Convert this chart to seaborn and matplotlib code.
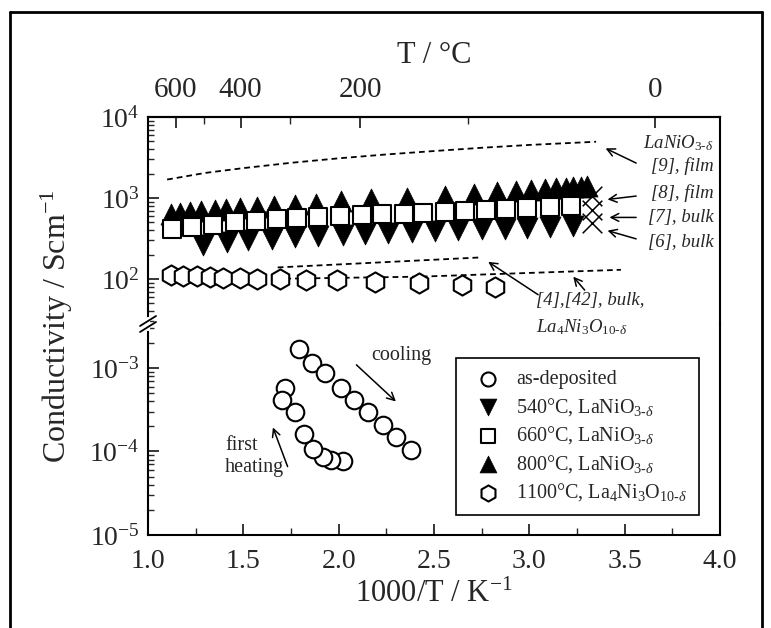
import numpy as np
import matplotlib
matplotlib.use("Agg")
import matplotlib.pyplot as plt
import seaborn as sns
from matplotlib.lines import Line2D

# -----------------------------------
# DATA  (x = 1000/T in K^-1, y = conductivity in S/cm)
# -----------------------------------

# as-deposited film, first heating then cooling
asdep_x = [2.02, 1.96, 1.92, 1.865, 1.82, 1.77, 1.72, 1.705,
           1.79, 1.86, 1.93, 2.01, 2.08, 2.155, 2.23, 2.30, 2.38]
asdep_y = [7.6e-5, 7.9e-5, 8.7e-5, 1.08e-4, 1.63e-4, 2.95e-4, 5.7e-4, 4.1e-4,
           1.69e-3, 1.14e-3, 8.6e-4, 5.7e-4, 4.1e-4, 2.95e-4, 2.1e-4, 1.48e-4, 1.05e-4]

# 540 C, LaNiO3
x540 = [1.29, 1.415, 1.525, 1.65, 1.77, 1.89, 2.02, 2.14, 2.26, 2.385,
        2.505, 2.627, 2.75, 2.87, 2.99, 3.11, 3.23]
y540 = [260, 285, 300, 313, 328, 344, 352, 362, 372, 380,
        390, 400, 410, 420, 432, 442, 455]

# 660 C, LaNiO3
x660 = [1.125, 1.23, 1.342, 1.456, 1.566, 1.675, 1.78, 1.89, 2.007, 2.12,
        2.225, 2.34, 2.44, 2.56, 2.66, 2.77, 2.88, 2.99, 3.11, 3.22]
y660 = [415, 435, 465, 500, 525, 550, 565, 580, 605, 620,
        630, 640, 660, 680, 690, 705, 730, 750, 770, 790]

# 800 C, LaNiO3
x800 = [1.12, 1.17, 1.22, 1.28, 1.35, 1.41, 1.48, 1.57, 1.66, 1.77, 1.88,
        2.01, 2.17, 2.36, 2.56, 2.71, 2.83, 2.93, 3.01, 3.08, 3.14, 3.19,
        3.23, 3.27, 3.30]
y800 = [630, 655, 675, 690, 710, 725, 755, 775, 795, 830, 850,
        910, 960, 1000, 1050, 1120, 1170, 1210, 1250, 1290, 1320, 1340,
        1360, 1380, 1390]

# 1100 C, La4Ni3O10
x1100 = [1.12, 1.185, 1.255, 1.325, 1.395, 1.48, 1.57, 1.69, 1.83, 1.99,
         2.19, 2.42, 2.645, 2.82]
y1100 = [112, 110, 108, 106, 104, 102, 100, 99, 97, 96,
         93, 89, 85, 80]

# literature lines
film9_x = [1.10, 1.30, 1.50, 1.75, 2.00, 2.25, 2.50, 2.75, 3.00, 3.35]
film9_y = [1690, 2040, 2340, 2720, 3090, 3450, 3800, 4170, 4520, 4950]
bulk4_x = [1.68, 2.75]
bulk4_y = [139, 185]
bulk42_x = [1.72, 2.43, 3.48]
bulk42_y = [101, 107, 130]
lit_x = [3.33, 3.33, 3.33]
lit_y = [1060, 720, 490]

# top axis (T / C)
top_major = [600, 400, 200, 0]
top_minor = [500, 300, 100]

# -----------------------------------
# STYLE
# -----------------------------------

sns.set_style("ticks")
plt.rcParams['font.family'] = ['Liberation Serif', 'DejaVu Serif']
plt.rcParams['mathtext.fontset'] = 'custom'
plt.rcParams['mathtext.rm'] = 'Liberation Serif'
plt.rcParams['mathtext.it'] = 'Liberation Serif:italic'
plt.rcParams['mathtext.bf'] = 'Liberation Serif:bold'
plt.rcParams['axes.linewidth'] = 1.5
plt.rcParams['axes.edgecolor'] = 'black'

fig = plt.figure(figsize=(7.71, 6.28), dpi=100)
ax_up = fig.add_axes([0.192, 0.4841, 0.7419, 0.3296])
ax_lo = fig.add_axes([0.192, 0.1481, 0.7419, 0.3360])
ax_lo.patch.set_visible(False)

open_kw = dict(color='black', facecolor='white', edgecolor='black', linewidth=1.5, legend=False)
fill_kw = dict(color='black', edgecolor='black', linewidth=0.5, legend=False)
dash = (0, (3.2, 2.2))

# upper panel
sns.lineplot(x=film9_x, y=film9_y, ax=ax_up, color='black', lw=1.3, linestyle=dash, zorder=1)
sns.lineplot(x=bulk4_x, y=bulk4_y, ax=ax_up, color='black', lw=1.3, linestyle=dash, zorder=1)
sns.lineplot(x=bulk42_x, y=bulk42_y, ax=ax_up, color='black', lw=1.3, linestyle=dash, zorder=1)

lab540 = '540°C, LaNiO$_{3\u2010\delta}$'
lab660 = '660°C, LaNiO$_{3\u2010\delta}$'
lab800 = '800°C, LaNiO$_{3\u2010\delta}$'
lab1100 = '1100°C, La$_4$Ni$_3$O$_{10\u2010\delta}$'

sns.scatterplot(x=x540, y=y540, ax=ax_up, marker='v', s=230, label=lab540, zorder=3, **fill_kw)
sns.scatterplot(x=x800, y=y800, ax=ax_up, marker='^', s=230, label=lab800, zorder=3, **fill_kw)
sns.scatterplot(x=x660, y=y660, ax=ax_up, marker='s', s=150, label=lab660, zorder=4, **open_kw)
sns.scatterplot(x=x1100, y=y1100, ax=ax_up, marker='h', s=210, label=lab1100, zorder=4, **open_kw)
ax_up.scatter(lit_x, lit_y, marker='x', s=200, color='black', linewidth=1.1, zorder=4)

# lower panel
sns.scatterplot(x=asdep_x, y=asdep_y, ax=ax_lo, marker='o', s=160, label='as-deposited', zorder=4, **open_kw)

for ax in (ax_up, ax_lo):
    ax.set_yscale('log')
    ax.set_xlim(1.0, 4.0)
    ax.set_xlabel('')
    ax.set_ylabel('')
    ax.tick_params(axis='y', which='major', direction='in', length=8, width=1.3,
                   labelsize=20, pad=6, right=False)
    ax.tick_params(axis='y', which='minor', direction='in', length=4, width=1.0, right=False)

ax_up.set_ylim(10 ** 1.445, 1e4)
ax_lo.set_ylim(1e-5, 10 ** -2.473)
ax_up.spines['bottom'].set_visible(False)
ax_lo.spines['top'].set_visible(False)

# top temperature axis
ax_t = ax_up.twiny()
ax_t.set_xlim(1.0, 4.0)
ax_t.set_xticks([1000.0 / (t + 273.15) for t in top_major])
ax_t.set_xticklabels([str(t) for t in top_major])
ax_t.set_xticks([1000.0 / (t + 273.15) for t in top_minor], minor=True)
ax_t.tick_params(axis='x', which='major', direction='in', length=8, width=1.3, labelsize=21, pad=10)
ax_t.tick_params(axis='x', which='minor', direction='in', length=5, width=1.0)
for s in ('bottom', 'left', 'right'):
    ax_t.spines[s].set_visible(False)
ax_t.set_xlabel('T / °C', fontsize=22, labelpad=10)

ax_up.tick_params(axis='x', which='both', bottom=False, top=False, labelbottom=False, labeltop=False)

ax_lo.set_xticks([1.0, 1.5, 2.0, 2.5, 3.0, 3.5, 4.0])
ax_lo.set_xticklabels(['1.0', '1.5', '2.0', '2.5', '3.0', '3.5', '4.0'])
ax_lo.set_xticks(np.arange(1.25, 4.0, 0.5), minor=True)
ax_lo.tick_params(axis='x', which='major', direction='in', length=8, width=1.3,
                  labelsize=20, pad=10, top=False)
ax_lo.tick_params(axis='x', which='minor', direction='in', length=5, width=1.0, top=False)
ax_lo.set_xlabel('1000/T / K$^{-1}$', fontsize=22, labelpad=4)

fig.text(0.074, 0.48, 'Conductivity / Scm$^{-1}$', rotation=90, fontsize=23,
         ha='center', va='center')

# axis break mark on left spine
px_w = 0.7419 * 771
px_h = 0.3360 * 628
ax_lo.plot([0, 0], [1 - 5 / px_h, 1 + 5 / px_h], transform=ax_lo.transAxes,
           color='white', lw=3, clip_on=False, zorder=10)
for off in (-3, 3):
    ax_lo.plot([-8 / px_w, 8 / px_w], [1 + (off - 5) / px_h, 1 + (off + 5) / px_h],
               transform=ax_lo.transAxes, color='black', lw=1.3, clip_on=False, zorder=11)

# -----------------------------------
# ANNOTATIONS
# -----------------------------------

arrow = dict(arrowstyle='->,head_length=0.55,head_width=0.28', color='black', lw=1.1,
             shrinkA=0, shrinkB=0)
it_kw = dict(style='italic', fontsize=13.5, ha='right', va='center')
ax_up.text(3.965, 4720, 'LaNiO$_{3\u2010\delta}$', **it_kw)
ax_up.text(3.965, 2450, '[9], film', **it_kw)
ax_up.text(3.965, 1160, '[8], film', **it_kw)
ax_up.text(3.965, 576, '[7], bulk', **it_kw)
ax_up.text(3.965, 285, '[6], bulk', **it_kw)
ax_up.annotate('', xy=(3.40, 4100), xytext=(3.56, 2700), arrowprops=arrow)
ax_up.annotate('', xy=(3.41, 960), xytext=(3.56, 1057), arrowprops=arrow)
ax_up.annotate('', xy=(3.42, 576), xytext=(3.56, 576), arrowprops=arrow)
ax_up.annotate('', xy=(3.41, 396), xytext=(3.56, 313), arrowprops=arrow)

ax_up.text(3.035, 55, '[4],[42], bulk,', style='italic', fontsize=13.5, ha='left', va='center')
ax_up.text(3.035, 25.5, 'La$_4$Ni$_3$O$_{10\u2010\delta}$', style='italic', fontsize=13.5,
           ha='left', va='center', clip_on=False)
ax_up.annotate('', xy=(2.784, 163), xytext=(3.046, 64), arrowprops=arrow, annotation_clip=False)
ax_up.annotate('', xy=(3.23, 107), xytext=(3.29, 73), arrowprops=arrow, annotation_clip=False)

ax_lo.text(2.17, 1.4e-3, 'cooling', fontsize=14.5, ha='left', va='center')
ax_lo.annotate('', xy=(2.30, 3.97e-4), xytext=(2.093, 1.09e-3), arrowprops=arrow)
ax_lo.text(1.404, 8.7e-5, 'first\nheating', fontsize=14.5, ha='left', va='center', linespacing=1.2)
ax_lo.annotate('', xy=(1.655, 1.94e-4), xytext=(1.732, 6.6e-5), arrowprops=arrow)

# legend
handles = {}
for ax in (ax_up, ax_lo):
    h, l = ax.get_legend_handles_labels()
    handles.update(dict(zip(l, h)))
order = ['as-deposited', lab540, lab660, lab800, lab1100]
leg = ax_lo.legend([handles[k] for k in order], order, loc='upper left',
                   bbox_to_anchor=(0.538, 0.839), borderaxespad=0, fontsize=14.5,
                   frameon=True, fancybox=False, framealpha=1, edgecolor='black',
                   handletextpad=0.4, labelspacing=0.33, borderpad=0.6, handlelength=2.0,
                   markerscale=0.8)
leg.get_frame().set_linewidth(1.2)

# figure frame
fig.add_artist(Line2D([10 / 771, 762 / 771], [1 - 12 / 628, 1 - 12 / 628], color='black', lw=2))
fig.add_artist(Line2D([10 / 771, 10 / 771], [0, 1 - 12 / 628], color='black', lw=2))
fig.add_artist(Line2D([762 / 771, 762 / 771], [0, 1 - 12 / 628], color='black', lw=2))

fig.savefig('out.png', dpi=100)
